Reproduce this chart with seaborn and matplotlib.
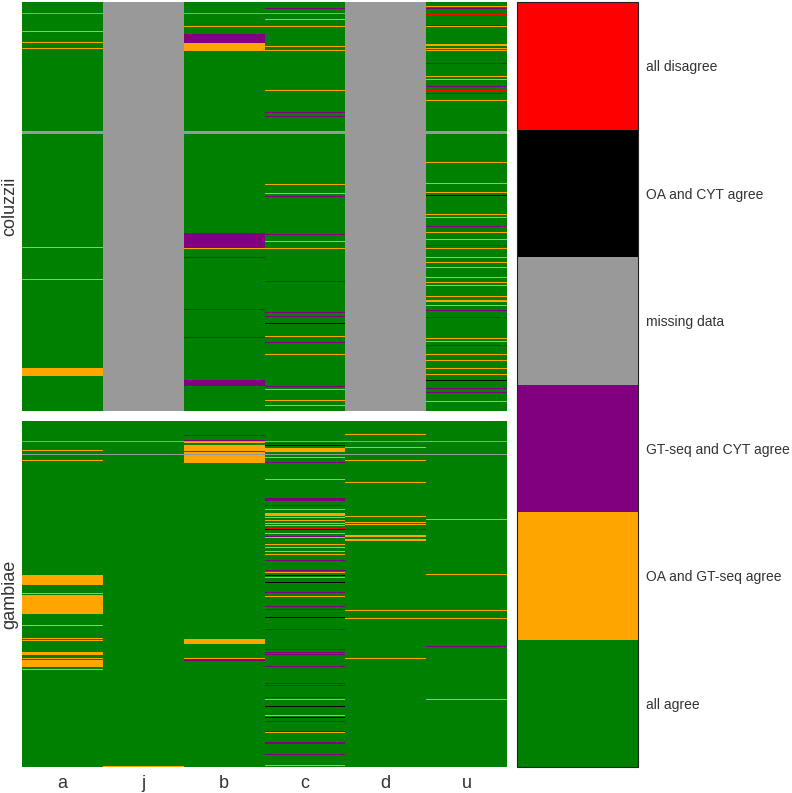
import numpy as np
import pandas as pd
import matplotlib
matplotlib.use("Agg")
import matplotlib.pyplot as plt
import seaborn as sns
from matplotlib.colors import ListedColormap, BoundaryNorm
from matplotlib.cm import ScalarMappable

sns.set_theme(style="white")
plt.rcParams['font.family'] = ['Liberation Sans', 'DejaVu Sans']

# categories (code order = colour bar order from bottom)
categories = ["all agree", "OA and GT-seq agree", "GT-seq and CYT agree",
              "missing data", "OA and CYT agree", "all disagree"]
colors = ["#008000", "#FFA500", "#800080", "#999999", "#000000", "#FF0000"]
columns = ["a", "j", "b", "c", "d", "u"]

AG, OG, GC, MD, OC, DI = range(6)

# ---- coluzzii ----
n_coluzzii = 409
coluzzii_default = {"a": AG, "j": MD, "b": AG, "c": AG, "d": MD, "u": AG}
coluzzii_all_missing = [129, 130, 131]

# runs: (first row, last row, code)
coluzzii_a = [(11, 11, MD), (29, 29, OG), (40, 40, OG), (46, 46, OG), (245, 245, OG),
              (277, 277, OG), (366, 373, OG)]
coluzzii_b = [(11, 11, MD), (24, 24, OG), (32, 40, GC), (41, 48, OG), (231, 245, GC),
              (246, 246, OG), (255, 255, GC), (307, 307, GC), (335, 335, GC), (378, 383, GC)]
coluzzii_c = [(6, 6, GC), (11, 11, MD), (17, 17, OG), (24, 24, OG), (44, 44, OG), (48, 48, OG),
              (88, 88, OG), (110, 110, GC), (114, 114, GC), (182, 182, OG), (191, 191, OG),
              (194, 194, GC), (232, 232, GC), (239, 239, OG), (246, 246, OG), (279, 279, GC),
              (310, 310, GC), (314, 314, GC), (321, 321, OC), (334, 334, OG), (340, 340, GC),
              (352, 352, OG), (384, 384, GC), (387, 387, OG), (398, 398, OG), (403, 403, OG)]
coluzzii_u = [(4, 4, OG), (6, 6, GC), (12, 12, DI), (23, 23, GC), (24, 24, OG), (42, 43, OG),
              (46, 46, OG), (48, 48, OG), (61, 61, GC), (74, 74, OG), (77, 77, OG), (84, 84, GC),
              (88, 88, DI), (91, 91, GC), (98, 98, OG), (160, 160, OG), (181, 181, OG),
              (190, 190, OG), (193, 193, OC), (212, 212, OG), (215, 215, OG), (224, 224, GC),
              (230, 230, OG), (237, 237, OG), (243, 243, GC), (246, 246, OG), (255, 255, OG),
              (260, 260, OG), (265, 265, OG), (275, 275, OG), (280, 280, OG), (283, 283, OG),
              (294, 294, OG), (298, 299, OG), (303, 303, OG), (308, 308, GC), (315, 315, GC),
              (336, 336, OG), (339, 339, OG), (343, 343, GC), (352, 352, OG), (358, 358, OG),
              (366, 366, OG), (372, 372, OG), (378, 378, OC), (386, 386, GC), (390, 390, GC),
              (399, 399, OG)]

# ---- gambiae ----
n_gambiae = 346
gambiae_default = {c: AG for c in columns}
gambiae_all_missing = [20, 33]

gambiae_a = [(29, 29, OG), (39, 39, OG), (154, 162, OG), (163, 163, OG), (172, 172, OG),
             (174, 192, OG), (204, 204, OG), (217, 217, OG), (219, 219, OG), (231, 233, OG),
             (237, 237, OG), (239, 245, OG), (248, 248, OG)]
gambiae_j = [(345, 345, OG)]
gambiae_b = [(14, 14, GC), (19, 19, GC), (21, 21, OG), (24, 41, OG), (30, 30, DI),
             (218, 222, OG), (237, 237, OG), (238, 238, GC), (239, 239, GC)]
gambiae_c = [(22, 22, GC), (24, 24, OC), (27, 30, OG), (36, 36, OG), (41, 41, GC), (58, 58, OG),
             (77, 79, GC), (84, 84, GC), (88, 88, OG), (92, 94, OG), (96, 96, OG), (99, 99, OG),
             (102, 102, OG), (104, 104, OG), (107, 107, DI), (108, 108, OC), (112, 112, OG),
             (115, 115, GC), (116, 116, OG), (120, 120, DI), (123, 123, OG), (126, 126, OG),
             (130, 130, OG), (133, 133, OG), (139, 139, GC), (149, 149, GC), (151, 151, OG),
             (154, 154, OC), (156, 156, OG), (158, 158, DI), (161, 161, OC), (171, 171, GC),
             (175, 175, OG), (185, 185, GC), (188, 188, GC), (196, 196, OC), (208, 208, GC),
             (228, 228, GC), (231, 231, GC), (233, 233, GC), (245, 245, GC), (262, 262, GC),
             (264, 264, GC), (276, 276, GC), (278, 278, OG), (285, 285, OC), (294, 294, OG),
             (296, 296, OC), (300, 300, GC), (310, 310, GC), (311, 311, OG), (321, 322, GC),
             (333, 333, GC), (344, 344, OG)]
gambiae_d = [(13, 13, OG), (26, 26, OG), (39, 39, OG), (61, 61, OG), (95, 95, OG), (101, 101, OG),
             (103, 103, OG), (108, 108, GC), (114, 115, OG), (118, 119, OG), (189, 189, OG),
             (197, 197, OG), (237, 237, OG)]
gambiae_u = [(98, 98, OG), (153, 153, OG), (189, 189, OG), (197, 197, OG), (225, 225, GC),
             (278, 278, OG)]


def build(n, default, all_missing, runs):
    df = pd.DataFrame({c: np.full(n, default[c]) for c in columns})
    for col, rr in runs.items():
        for start, stop, code in rr:
            df.loc[start:stop, col] = code
    df.loc[all_missing, :] = MD
    return df


coluzzii = build(n_coluzzii, coluzzii_default, coluzzii_all_missing,
                 {"a": coluzzii_a, "b": coluzzii_b, "c": coluzzii_c, "u": coluzzii_u})
gambiae = build(n_gambiae, gambiae_default, gambiae_all_missing,
                {"a": gambiae_a, "j": gambiae_j, "b": gambiae_b, "c": gambiae_c,
                 "d": gambiae_d, "u": gambiae_u})

cmap = ListedColormap(colors)
norm = BoundaryNorm(np.arange(-0.5, 6.5, 1), cmap.N)

W, H = 792, 793
fig = plt.figure(figsize=(W / 100, H / 100), dpi=100)
ax1 = fig.add_axes([22 / W, 1 - 411 / H, 485 / W, 409 / H])
ax2 = fig.add_axes([22 / W, 1 - 767 / H, 485 / W, 346 / H])
cax = fig.add_axes([517 / W, 1 - 767 / H, 121 / W, 765 / H])

mesh_kws = dict(cmap=cmap, norm=norm, cbar=False, yticklabels=False,
                linewidths=0, edgecolor="face", antialiased=False)
sns.heatmap(coluzzii, ax=ax1, xticklabels=False, **mesh_kws)
sns.heatmap(gambiae, ax=ax2, xticklabels=columns, **mesh_kws)

text_col = "#333333"
ax1.set_ylabel("coluzzii", fontsize=13, color=text_col, labelpad=3)
ax2.set_ylabel("gambiae", fontsize=13, color=text_col, labelpad=3)
ax2.tick_params(axis="x", length=0, labelsize=13, labelcolor=text_col, pad=6)
ax2.set_xticklabels(columns, rotation=0)

cb = fig.colorbar(ScalarMappable(norm=norm, cmap=cmap), cax=cax, ticks=range(6))
cb.set_ticklabels(categories)
cb.ax.minorticks_off()
cb.ax.tick_params(which="both", length=0, labelsize=10, labelcolor=text_col, pad=6)
cb.outline.set_edgecolor("#222222")
cb.outline.set_linewidth(0.8)

fig.savefig("out.png", dpi=100)
